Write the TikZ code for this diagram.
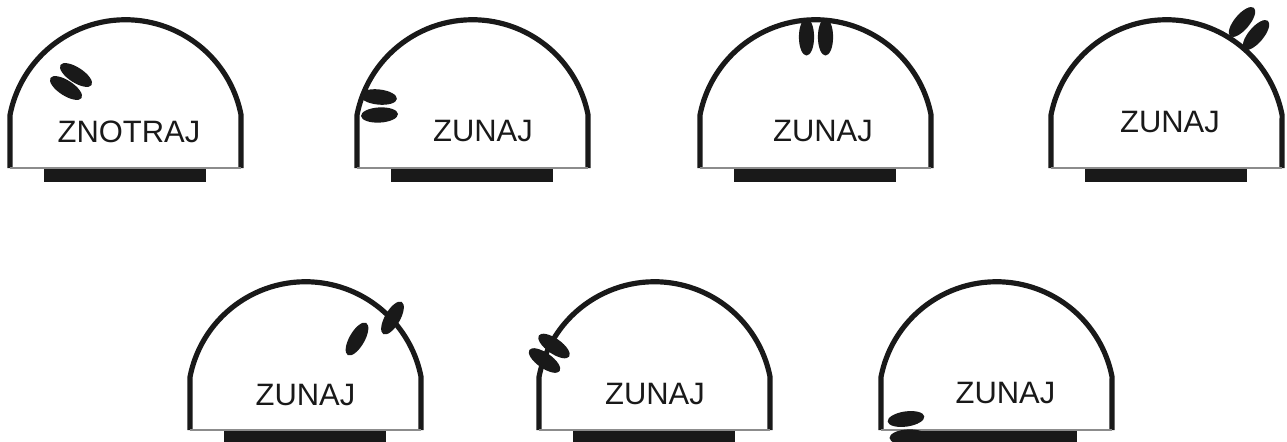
\documentclass[tikz,border=0pt]{standalone}
\usepackage{fontspec}
\setmainfont{Liberation Sans}

\begin{document}
\begin{tikzpicture}[x=0.02cm, y=0.02cm]

	% Stile
	\tikzset{
		wall/.style={line width=2.95pt, black!90},
		floor/.style={line width=0.6pt, black!45},
		bar/.style={fill=black!90},
		elec/.style={fill=black!90},
		lab/.style={inner sep=0pt, font=\fontsize{17.6pt}{21pt}\selectfont, text=black!90}
	}
	\useasboundingbox (0,0) rectangle (1287,441);

	% Kuppeln mit Boden und Balken
	\foreach \px/\py in {10/273, 357/273, 700/273, 1051/273, 190/11, 539/11, 881/11} {
		\begin{scope}[shift={(\px,\py)}]
			\draw[wall] (0,0) -- (0,53) arc[start angle=169, end angle=11, radius=117.7] -- (231,0);
			\draw[floor] (0,0) -- (231,0);
			\fill[bar] (34,-1) rectangle (196,-14);
		\end{scope}
	}

	% Elektroden
	\foreach \ex/\ey/\ea in {76/366/-33, 66/353/-33,
		378.5/344/-6, 379.5/326/3,
		806.5/404/90, 825.5/404/90,
		1242/419/50, 1256/406/50,
		357/102/60, 392.5/123/60,
		554/95/-35, 544.5/80.5/-35,
		906/22/8, 908/4/3} {
		\fill[elec, rotate around={\ea:(\ex,\ey)}] (\ex,\ey) ellipse [x radius=18.5, y radius=7.6];
	}

	% Beschriftung
	\node[lab] (lab1) at (129,309) {ZNOTRAJ};
	\node[lab] (lab2) at (483,310) {ZUNAJ};
	\node[lab] (lab3) at (823,310) {ZUNAJ};
	\node[lab] (lab4) at (1170,319) {ZUNAJ};
	\node[lab] (lab5) at (305.5,46) {ZUNAJ};
	\node[lab] (lab6) at (655,47) {ZUNAJ};
	\node[lab] (lab7) at (1005.5,48) {ZUNAJ};

\end{tikzpicture}
\end{document}
